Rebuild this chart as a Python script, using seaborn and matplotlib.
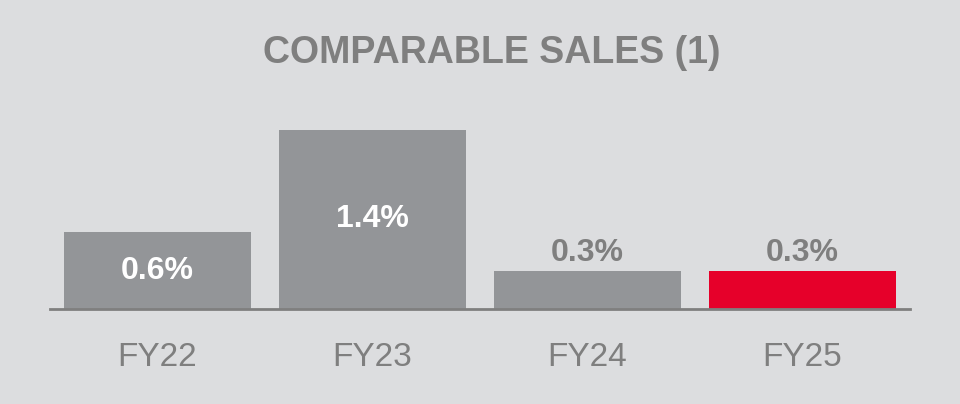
import matplotlib
matplotlib.use("Agg")
import matplotlib.pyplot as plt
import seaborn as sns
import pandas as pd

years = ["FY22", "FY23", "FY24", "FY25"]
comp_sales = [0.6, 1.4, 0.3, 0.3]
value_labels = ["0.6%", "1.4%", "0.3%", "0.3%"]
bar_colors = ["#939598", "#939598", "#939598", "#E6002A"]

BG = "#DCDDDF"
TEXT = "#7F7F7F"

sns.set_theme(style="white")
plt.rcParams["font.family"] = ["Liberation Sans", "DejaVu Sans"]

df = pd.DataFrame({"year": years, "value": comp_sales})

fig = plt.figure(figsize=(9.6, 4.04), dpi=100, facecolor=BG)
ax = fig.add_axes([50 / 960, (404 - 309) / 404, 860 / 960, 209 / 404])
ax.set_facecolor(BG)

sns.barplot(data=df, x="year", y="value", hue="year", palette=bar_colors,
            width=0.87, saturation=1, legend=False, linewidth=0, ax=ax)

ax.set_xlim(-0.5, 3.5)
ax.set_ylim(0, 209 / 128)

for s in ["top", "right", "left"]:
    ax.spines[s].set_visible(False)
ax.spines["bottom"].set_color(TEXT)
ax.spines["bottom"].set_linewidth(2)
ax.set_yticks([])
ax.set_xlabel("")
ax.set_ylabel("")
ax.tick_params(axis="x", length=0, pad=24, labelsize=24, labelcolor=TEXT)

for i, (v, lab) in enumerate(zip(comp_sales, value_labels)):
    if v >= 0.5:
        ax.text(i, v / 2, lab, ha="center", va="center", color="white",
                fontsize=23, fontweight="bold")
    else:
        ax.text(i, v + 10 / 128, lab, ha="center", va="baseline", color=TEXT,
                fontsize=23, fontweight="bold")

fig.text(492 / 960, 1 - 63 / 404, "COMPARABLE SALES (1)", ha="center",
         va="baseline", color=TEXT, fontsize=27, fontweight="bold")

fig.savefig("out.png", dpi=100, facecolor=BG)
